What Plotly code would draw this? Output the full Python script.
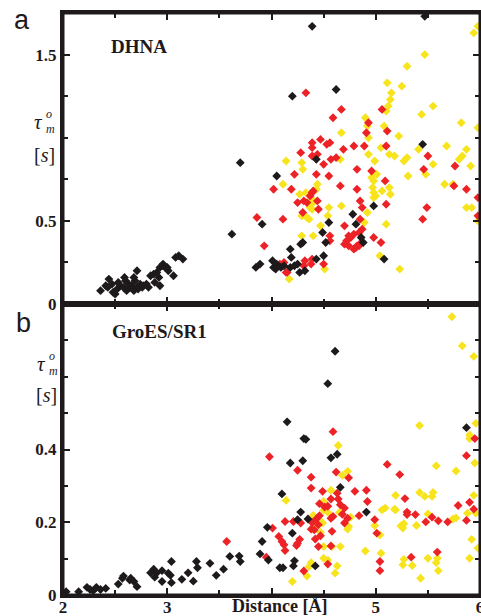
import plotly.graph_objects as go

# ---------------- Panel a (DHNA) ----------------
a_black_x = [4.39, 5.47, 4.20, 4.62, 3.70, 4.05, 4.43, 5.45, 3.91, 4.78, 4.81, 4.98, 4.18, 4.28, 4.30,
             4.55, 4.49, 4.52, 4.86, 4.88, 5.08, 3.85, 3.89, 4.01, 4.02, 4.04, 4.09, 4.12, 4.18, 4.19,
             4.22, 4.25, 4.27, 4.32, 4.43, 4.50, 4.05,
             2.36, 2.41, 2.44, 2.43, 2.48, 2.50, 2.52, 2.55, 2.58, 2.60, 2.61, 2.63, 2.64, 2.66, 2.68,
             2.69, 2.71, 2.71, 2.72, 2.74, 2.76, 2.77, 2.80, 2.82, 2.87, 2.90, 2.92, 2.93, 2.93, 2.96,
             2.98, 3.01, 3.06, 3.08, 3.11, 3.15, 2.68, 2.59, 2.53, 2.47, 2.84, 2.88, 2.95, 3.00, 3.62]
a_black_y = [1.67, 1.73, 1.25, 1.29, 0.85, 0.77, 0.87, 0.96, 0.48, 0.54, 0.48, 0.59, 0.33, 0.36, 0.37,
             0.49, 0.43, 0.37, 0.40, 0.37, 0.27, 0.22, 0.24, 0.26, 0.22, 0.21, 0.22, 0.23, 0.22, 0.28,
             0.23, 0.24, 0.19, 0.20, 0.27, 0.29, 0.24,
             0.08, 0.11, 0.15, 0.10, 0.07, 0.06, 0.09, 0.11, 0.10, 0.14, 0.08, 0.12, 0.10, 0.11, 0.08,
             0.14, 0.20, 0.10, 0.09, 0.12, 0.10, 0.11, 0.12, 0.10, 0.18, 0.19, 0.16, 0.11, 0.22, 0.24,
             0.22, 0.20, 0.17, 0.28, 0.29, 0.27, 0.16, 0.16, 0.13, 0.12, 0.17, 0.13, 0.23, 0.22, 0.42]

a_red_x = [4.33, 4.67, 4.59, 5.06, 4.93, 4.91, 5.11, 4.39, 4.47, 4.53, 4.56, 4.39, 4.28, 4.39, 4.44,
           4.57, 4.62, 4.69, 4.79, 4.89, 5.10, 5.50, 5.46, 5.76, 5.75, 5.87, 5.98, 5.98, 5.49, 5.45,
           4.50, 4.22, 4.43, 4.55, 4.82, 4.96, 5.09, 4.66, 4.02, 4.19, 4.40, 4.39, 4.37, 4.82, 4.25,
           4.31, 4.34, 4.44, 4.85, 4.87, 4.30, 4.45, 4.11, 3.86, 4.70, 4.85, 4.87, 4.84, 4.79, 4.74,
           4.72, 4.76, 4.70, 4.82, 4.79, 4.98, 5.05, 5.10, 3.93, 4.56, 4.56, 4.39, 4.38, 4.32, 4.31,
           4.14, 4.15, 4.08, 4.50, 4.74, 4.81, 4.84, 4.12, 4.86]
a_red_y = [1.27, 1.17, 1.12, 1.17, 1.09, 1.03, 1.04, 0.97, 0.99, 0.96, 0.97, 0.94, 0.91, 0.89, 0.90,
           0.87, 0.88, 0.93, 0.95, 0.95, 0.95, 0.89, 0.81, 0.83, 0.71, 0.69, 0.64, 0.53, 0.58, 0.51,
           0.84, 0.78, 0.78, 0.77, 0.81, 0.80, 0.74, 0.71, 0.69, 0.69, 0.68, 0.67, 0.65, 0.69, 0.61,
           0.62, 0.61, 0.62, 0.62, 0.58, 0.55, 0.57, 0.51, 0.52, 0.47, 0.51, 0.45, 0.43, 0.42, 0.41,
           0.38, 0.40, 0.36, 0.35, 0.33, 0.40, 0.37, 0.60, 0.35, 0.41, 0.38, 0.27, 0.24, 0.26, 0.23,
           0.19, 0.19, 0.24, 0.24, 0.35, 0.34, 0.35, 0.25, 0.37]

a_yellow_x = [5.98, 5.94, 5.47, 5.30, 5.11, 5.15, 5.25, 5.14, 5.12, 5.10, 5.55, 5.44, 4.90, 4.92, 4.93,
              5.08, 5.22, 5.05, 5.13, 5.18, 5.27, 5.30, 5.41, 5.68, 5.87, 5.83, 5.80, 5.91, 5.98, 5.82,
              5.55, 4.67, 4.66, 4.14, 4.29, 4.30, 4.99, 4.96, 5.01, 4.98, 4.97, 4.98, 5.00, 4.98, 5.06,
              5.13, 5.14, 5.31, 5.48, 5.66, 5.74, 5.87, 5.92, 5.98, 4.11, 4.44, 4.43, 4.27, 4.33, 4.39,
              4.37, 4.39, 4.29, 4.34, 4.36, 4.55, 4.54, 4.67, 4.92, 4.89, 4.47, 4.29, 4.40, 5.10, 5.04,
              5.23, 4.51, 4.17, 4.40, 4.93]
a_yellow_y = [1.67, 1.63, 1.50, 1.43, 1.33, 1.27, 1.31, 1.23, 1.19, 1.16, 1.19, 1.14, 1.12, 1.07, 1.00,
              1.07, 1.01, 0.94, 0.90, 0.89, 0.86, 0.88, 0.93, 0.95, 0.93, 0.89, 0.87, 0.83, 1.06, 1.09,
              0.84, 1.03, 0.87, 0.86, 0.85, 0.81, 0.86, 0.76, 0.78, 0.74, 0.70, 0.67, 0.65, 0.64, 0.68,
              0.70, 0.66, 0.77, 0.78, 0.72, 0.72, 0.58, 0.58, 0.50, 0.72, 0.72, 0.69, 0.66, 0.67, 0.63,
              0.58, 0.57, 0.53, 0.52, 0.51, 0.58, 0.53, 0.59, 0.55, 0.49, 0.47, 0.41, 0.41, 0.48, 0.29,
              0.21, 0.21, 0.15, 0.61, 0.90]

# ---------------- Panel b (GroES/SR1) ----------------
b_black_x = [4.61, 4.54, 4.15, 4.31, 4.33, 4.18, 4.30, 4.57, 4.63, 4.66, 4.10, 4.28, 4.25, 4.35, 4.20,
             3.96, 3.91, 3.89, 3.97, 4.08, 4.11, 4.22, 4.21, 4.42, 4.91, 5.87,
             3.41, 3.47, 3.54, 3.60, 3.69, 3.70,
             2.03, 2.15, 2.23, 2.26, 2.29, 2.32, 2.36, 2.41, 2.53, 2.57, 2.58, 2.65, 2.68, 2.71, 2.64,
             2.84, 2.87, 2.88, 2.95, 2.95, 2.90, 3.01, 3.04, 3.03, 3.04, 3.14, 3.20, 3.25, 3.28, 3.29]
b_black_y = [0.670, 0.581, 0.476, 0.430, 0.428, 0.363, 0.369, 0.377, 0.387, 0.296, 0.278, 0.228, 0.207,
             0.209, 0.170, 0.186, 0.147, 0.113, 0.096, 0.075, 0.075, 0.094, 0.080, 0.080, 0.228, 0.460,
             0.087, 0.054, 0.071, 0.106, 0.107, 0.092,
             0.009, 0.009, 0.021, 0.015, 0.012, 0.021, 0.015, 0.018, 0.030, 0.046, 0.052, 0.046, 0.037,
             0.023, 0.041, 0.061, 0.071, 0.049, 0.067, 0.037, 0.061, 0.060, 0.092, 0.054, 0.034, 0.043,
             0.061, 0.038, 0.092, 0.075]

b_red_x = [4.59, 3.98, 4.25, 4.38, 4.38, 4.49, 4.57, 4.62, 4.74, 4.80, 4.91, 4.92, 5.11, 5.23, 5.28,
           5.30, 5.30, 5.38, 5.48, 5.54, 5.60, 5.69, 5.79, 5.90, 5.94, 5.87, 5.95, 5.87, 4.13, 4.21,
           4.28, 4.07, 4.10, 4.12, 4.13, 4.25, 4.27, 4.24, 4.38, 4.39, 4.41, 4.43, 4.45, 4.47, 4.45,
           4.46, 4.46, 4.51, 4.54, 4.59, 4.57, 4.63, 4.64, 4.66, 4.68, 4.70, 4.73, 4.70, 4.84, 4.99,
           5.01, 5.04, 5.04, 5.34, 5.59, 4.31, 4.54, 4.57, 4.58, 3.95, 4.01, 3.57, 4.42]
b_red_y = [0.449, 0.380, 0.343, 0.324, 0.294, 0.285, 0.264, 0.338, 0.322, 0.285, 0.288, 0.257, 0.359,
           0.331, 0.265, 0.228, 0.221, 0.221, 0.201, 0.214, 0.204, 0.201, 0.246, 0.255, 0.236, 0.383,
           0.430, 0.205, 0.202, 0.202, 0.198, 0.161, 0.147, 0.138, 0.122, 0.142, 0.153, 0.136, 0.181,
           0.199, 0.179, 0.209, 0.193, 0.163, 0.133, 0.218, 0.251, 0.242, 0.244, 0.216, 0.211, 0.280,
           0.264, 0.248, 0.222, 0.239, 0.211, 0.198, 0.218, 0.207, 0.170, 0.092, 0.067, 0.104, 0.118,
           0.066, 0.085, 0.135, 0.175, 0.104, 0.184, 0.147, 0.154]

b_yellow_x = [5.73, 5.83, 5.94, 5.42, 5.96, 5.90, 5.90, 4.64, 5.95, 5.77, 5.58, 4.73, 4.68, 4.57, 4.14,
              4.40, 4.45, 4.49, 4.42, 4.50, 4.54, 4.65, 4.76, 4.74, 4.73, 4.66, 4.50, 4.58, 5.19, 5.09,
              5.06, 5.18, 5.19, 5.27, 5.24, 5.26, 5.39, 5.42, 5.47, 5.55, 5.54, 5.50, 5.77, 5.74, 5.88,
              5.94, 5.96, 5.98, 5.92, 5.90, 5.43, 5.50, 5.59, 5.58, 5.60, 5.26, 5.27, 5.35, 5.05, 4.90,
              4.99, 5.04, 4.34, 4.38, 4.36, 4.50, 4.54, 4.61, 4.63, 4.20, 4.47, 4.50]
b_yellow_y = [0.765, 0.685, 0.656, 0.466, 0.472, 0.440, 0.430, 0.411, 0.363, 0.341, 0.355, 0.340, 0.329,
              0.288, 0.260, 0.219, 0.211, 0.198, 0.188, 0.233, 0.227, 0.227, 0.214, 0.188, 0.181, 0.133,
              0.133, 0.133, 0.274, 0.239, 0.234, 0.236, 0.234, 0.196, 0.190, 0.184, 0.191, 0.282, 0.271,
              0.282, 0.271, 0.223, 0.212, 0.209, 0.225, 0.274, 0.225, 0.129, 0.153, 0.101, 0.046, 0.101,
              0.101, 0.089, 0.067, 0.083, 0.098, 0.081, 0.115, 0.121, 0.191, 0.165, 0.052, 0.089, 0.078,
              0.101, 0.096, 0.060, 0.080, 0.037, 0.172, 0.257]

x_tickvals = [2, 3, 4, 5, 6]
x_ticktext = ["2", "3", "", "5", "6"]
x_minor_vals = [2.5, 3.5, 4.5, 5.5]
ya_tickvals = [0, 0.5, 1.5]
ya_ticktext = ["0", "0.5", "1.5"]
ya_minor_vals = [0.25, 0.75, 1.0, 1.25]
yb_tickvals = [0, 0.2, 0.4]
yb_ticktext = ["0", "0.2", "0.4"]
yb_minor_vals = [0.1, 0.3, 0.5, 0.6, 0.7]

BLACK = "#1e1a1b"
RED = "#ec2227"
YELLOW = "#f7e41d"
MS = 6.8

fig = go.Figure()

def add(xs, ys, color, xa, ya):
    fig.add_trace(go.Scatter(x=xs, y=ys, mode="markers", xaxis=xa, yaxis=ya,
                             marker=dict(symbol="diamond", size=MS, color=color, line=dict(width=0)),
                             showlegend=False, hoverinfo="skip"))

add(a_yellow_x, a_yellow_y, YELLOW, "x2", "y2")
add(a_red_x, a_red_y, RED, "x2", "y2")
add(a_black_x, a_black_y, BLACK, "x2", "y2")
add(b_yellow_x, b_yellow_y, YELLOW, "x", "y")
add(b_red_x, b_red_y, RED, "x", "y")
add(b_black_x, b_black_y, BLACK, "x", "y")

tickfont = dict(family="Liberation Serif", size=17, color=BLACK, weight="bold")

def minor(vals):
    return dict(tickmode="array", tickvals=vals, ticklen=5, tickwidth=2, tickcolor=BLACK,
                ticks="inside", showgrid=False)

axis_common = dict(showline=True, linewidth=3, linecolor=BLACK, mirror="ticks",
                   ticks="inside", ticklen=7, tickwidth=2, tickcolor=BLACK,
                   showgrid=False, zeroline=False, tickfont=tickfont, automargin=False,
                   ticklabeloverflow="allow")

fig.update_layout(
    width=481, height=616,
    margin=dict(l=63, r=1, t=13, b=21, autoexpand=False),
    paper_bgcolor="white", plot_bgcolor="white",
    xaxis=dict(domain=[0, 1], range=[2, 6], anchor="y", tickvals=x_tickvals, ticktext=x_ticktext,
               ticklabelstandoff=-5, minor=minor(x_minor_vals), **axis_common),
    xaxis2=dict(domain=[0, 1], range=[2, 6], anchor="y2", matches="x", tickvals=x_tickvals,
                showticklabels=False, minor=minor(x_minor_vals), **axis_common),
    yaxis=dict(domain=[0, 0.5], range=[0, 0.8], anchor="x", tickvals=yb_tickvals, ticktext=yb_ticktext,
               minor=minor(yb_minor_vals), **axis_common),
    yaxis2=dict(domain=[0.5, 1], range=[0, 1.75], anchor="x2", tickvals=ya_tickvals, ticktext=ya_ticktext,
                minor=minor(ya_minor_vals), **axis_common),
)

# panel frames
for xr, yr in (("x", "y"), ("x2", "y2")):
    fig.add_shape(type="rect", xref=f"{xr} domain", yref=f"{yr} domain", x0=0, x1=1, y0=0, y1=1,
                  line=dict(color=BLACK, width=3), fillcolor="rgba(0,0,0,0)", layer="above")

def px_to_paper_x(px):
    return (px - 63) / 417.0

def py_to_paper_y(py):
    return (595 - py) / 582.0

serif = "Liberation Serif"
annots = [
    dict(text="a", px=22, py=20, size=27, family="Liberation Sans", weight="normal"),
    dict(text="b", px=23, py=323, size=27, family="Liberation Sans", weight="normal"),
    dict(text="DHNA", px=139, py=46, size=19, family=serif, weight="bold"),
    dict(text="GroES/SR1", px=159, py=331, size=19, family=serif, weight="bold"),
    dict(text="<i>τ</i>", px=38, py=122, size=21, family=serif, weight="normal"),
    dict(text="<i>o</i>", px=49, py=114, size=12, family=serif, weight="normal"),
    dict(text="<i>m</i>", px=50, py=129, size=12, family=serif, weight="normal"),
    dict(text="[<i>s</i>]", px=44, py=155, size=20, family=serif, weight="normal"),
    dict(text="<i>τ</i>", px=41, py=364, size=21, family=serif, weight="normal"),
    dict(text="<i>o</i>", px=52, py=356, size=12, family=serif, weight="normal"),
    dict(text="<i>m</i>", px=53, py=371, size=12, family=serif, weight="normal"),
    dict(text="[<i>s</i>]", px=46, py=395, size=20, family=serif, weight="normal"),
]
for a in annots:
    fig.add_annotation(text=a["text"], xref="paper", yref="paper",
                       x=px_to_paper_x(a["px"]), y=py_to_paper_y(a["py"]),
                       xanchor="center", yanchor="middle", showarrow=False,
                       font=dict(family=a["family"], size=a["size"], color=BLACK, weight=a["weight"]))

fig.add_annotation(text="Distance [Å]", xref="x", yref="paper", x=4.08, y=py_to_paper_y(606),
                   xanchor="center", yanchor="middle", showarrow=False,
                   font=dict(family=serif, size=18, color=BLACK, weight="bold"))

fig.write_html("out.html",
               config={"displayModeBar": False},
               post_script="document.body.style.margin='0';document.body.style.padding='0';"
                           "document.documentElement.style.overflow='hidden';")
